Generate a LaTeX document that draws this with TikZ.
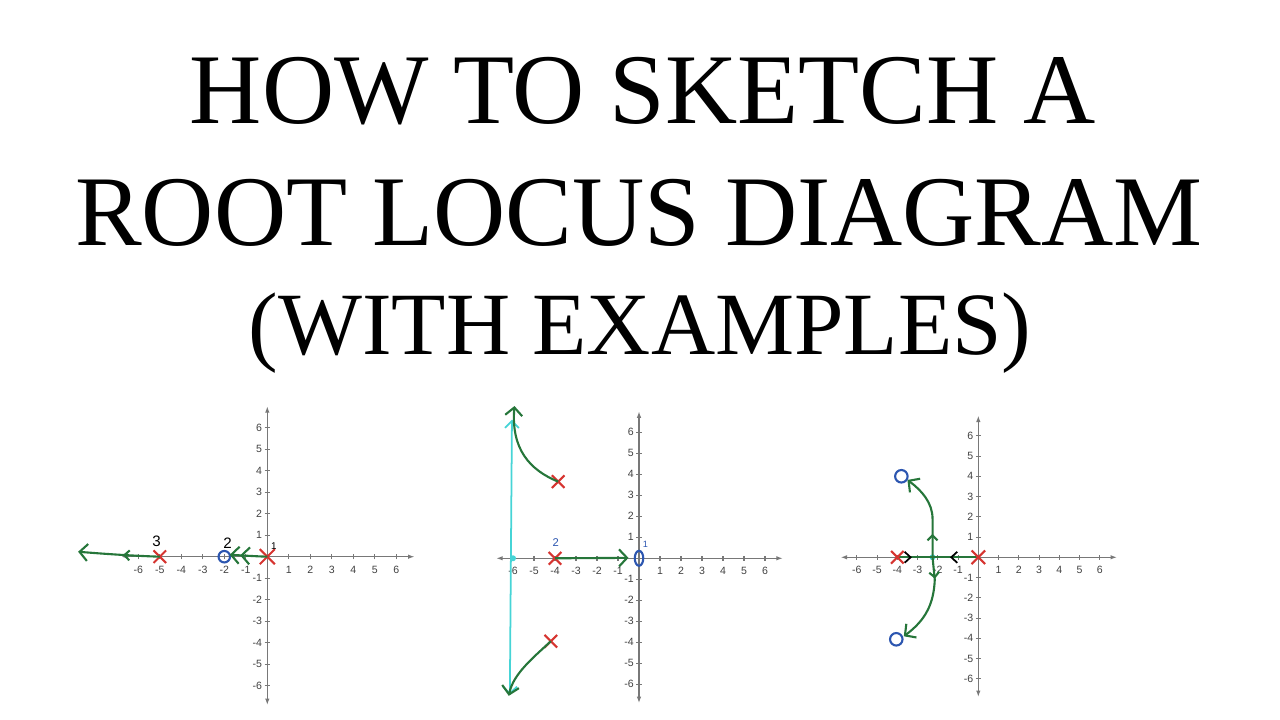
\documentclass[tikz,border=0pt]{standalone}
\usepackage{fontspec}
\setmainfont{Liberation Serif}
\newfontfamily\tickfont{Liberation Sans}
\usepackage{tikz}
\usetikzlibrary{arrows.meta}
\usetikzlibrary{shapes.misc,shapes.geometric,decorations.markings}
\definecolor{locus}{RGB}{38,118,58}
\definecolor{polered}{RGB}{214,52,48}
\definecolor{zeroblue}{RGB}{44,86,176}
\definecolor{breakcyan}{RGB}{70,212,214}
\definecolor{axisgray}{RGB}{120,120,120}
% axes of one s-plane, drawn in the current scope
\newcommand{\rlaxes}{%
  \coordinate (xw) at (-6.8,0);  \coordinate (xe) at (6.85,0);
  \coordinate (ys) at (0,-6.9);  \coordinate (yn) at (0,7.0);
  \draw[RLAxis] (xw) -- (xe);
  \draw[RLAxis] (ys) -- (yn);
  \foreach \t in {-6,-5,-4,-3,-2,-1,1,2,3,4,5,6}{
    \draw[RLTick] (\t,-0.12) -- (\t,0.12);
    \draw[RLTick] (-0.12,\t) -- (0.12,\t);
    \node[TickLabel,anchor=north] (xl\t) at (\t,-0.4) {\t};
    \node[TickLabel,anchor=east] (yl\t) at (-0.22,\t) {\t};
  }%
}

\begin{document}
\begin{tikzpicture}[
RLAxis/.style={draw=axisgray,line width=0.35pt,{Latex[length=0.65mm,width=0.45mm]}-{Latex[length=0.65mm,width=0.45mm]}},
RLTick/.style={draw=axisgray,line width=0.3pt},
TickLabel/.style={font=\tickfont\fontsize{3.0}{3.5}\selectfont,text=black!75,inner sep=0pt},
TitleText/.style={font=\fontsize{28.45}{30}\selectfont,anchor=base,inner sep=0pt},
HandLabel/.style={font=\tickfont\fontsize{4.3}{5}\selectfont,inner sep=0pt},
Pole/.style={cross out,draw=polered,line width=0.6pt,minimum size=1.05mm,inner sep=0pt},
Zero/.style={circle,draw=zeroblue,line width=0.6pt,minimum size=1.15mm,inner sep=0pt},
BreakDot/.style={circle,fill=breakcyan,minimum size=0.6mm,inner sep=0pt},
Locus/.style={draw=locus,line width=0.6pt},
LocusTip/.tip={Straight Barb[length=0.8mm,width=1.7mm]},
SmallTip/.tip={Straight Barb[length=0.5mm,width=1.0mm]},
MidArrow/.style={postaction={decorate},decoration={markings,mark=at position #1 with {\arrow{SmallTip[]}}}}
]
\useasboundingbox (0,0) rectangle (12.8,7.2);

% title
\node[TitleText] (line1) at (6.43,5.96) {HOW TO SKETCH A};
\node[TitleText] (line2) at (6.39,4.74) {ROOT LOCUS DIAGRAM};
\node[TitleText,font=\fontsize{25.3}{27}\selectfont] (line3) at (6.40,3.65) {(WITH EXAMPLES)};

% first example
\begin{scope}[shift={(2.673,1.633)},x=0.215cm,y=0.215cm,name prefix=p1-]
\rlaxes
\node[Pole,minimum size=1.3mm] (pa) at (0,0) {};
\node[Pole] (pb) at (-5,0) {};
\node[Zero] (za) at (-2,0) {};
\coordinate (ea) at (-1.75,0.09);
\coordinate (eb) at (-8.8,0.23);
\draw[Locus,-{LocusTip[] LocusTip[]}] (pa.center) .. controls (-0.6,0.02) and (-1.2,0.06) .. (ea);
\draw[Locus,-{LocusTip[]},MidArrow=0.45] (pb.center) .. controls (-6.5,0.05) and (-7.8,0.15) .. (eb);
\node[HandLabel] (n3) at (-5.15,0.72) {3};
\node[HandLabel] (n2) at (-1.85,0.62) {2};
\node[HandLabel,font=\tickfont\fontsize{2.8}{3}\selectfont] (n1) at (0.3,0.5) {1};
\end{scope}

% second example
\begin{scope}[shift={(6.39,1.617)},x=0.21cm,y=0.21cm,name prefix=p2-]
\rlaxes
\coordinate (cn) at (-6.05,6.6);
\coordinate (cs) at (-6.15,-6.5);
\draw[draw=breakcyan,line width=0.5pt,{Straight Barb[length=0.7mm,width=1.4mm]}-{Straight Barb[length=0.7mm,width=1.4mm]}] (cs) -- (cn);
\node[BreakDot] (d) at (-6,0) {};
\node[Pole] (pa) at (-4,0) {};
\node[Pole] (pb) at (-3.85,3.65) {};
\node[Pole] (pc) at (-4.2,-3.95) {};
\node[ellipse,draw=zeroblue,line width=0.6pt,minimum width=0.85mm,minimum height=1.5mm,inner sep=0pt] (za) at (0,0) {};
\coordinate (ea) at (-0.5,0.02);
\coordinate (eb) at (-5.93,7.25);
\coordinate (ec) at (-6.2,-6.55);
\draw[Locus,-{LocusTip[]}] (pa.center) -- (ea);
\draw[Locus,-{LocusTip[]}] (pb.center) .. controls (-5.2,4.2) and (-6.1,5.2) .. (eb);
\draw[Locus,-{LocusTip[]}] (pc.center) .. controls (-5.0,-4.7) and (-6.0,-5.5) .. (ec);
\node[HandLabel,text=zeroblue,font=\tickfont\fontsize{3.2}{4}\selectfont] (n2) at (-3.96,0.74) {2};
\node[HandLabel,text=zeroblue,font=\tickfont\fontsize{2.6}{3}\selectfont] (n1) at (0.3,0.65) {1};
\end{scope}

% third example
\begin{scope}[shift={(9.783,1.627)},x=0.2025cm,y=0.2025cm,name prefix=p3-]
\rlaxes
\node[BreakDot] (b) at (-2.26,0) {};
\coordinate (en) at (-3.5,3.82);
\coordinate (es) at (-3.68,-3.9);
\coordinate (kn) at (-2.26,1.9);
\coordinate (ks) at (-2.15,-1.1);
\draw[Locus,postaction={decorate},decoration={markings,
  mark=at position 0.35 with {\arrow[black,line width=0.5pt]{Straight Barb[length=0.6mm,width=1.1mm]}},
  mark=at position 0.82 with {\arrowreversed[black,line width=0.5pt]{Straight Barb[length=0.6mm,width=1.1mm]}}}]
  (0,0) -- (-4,0);
\draw[Locus,-{LocusTip[]},MidArrow=0.27] (b.center) -- (kn) .. controls (-2.26,2.7) and (-2.8,3.3) .. (en);
\draw[Locus,-{LocusTip[]},MidArrow=0.24] (b.center) -- (ks) .. controls (-2.2,-2.3) and (-2.6,-3.1) .. (es);
\node[Pole,minimum size=1.15mm] (pa) at (0,0) {};
\node[Pole] (pb) at (-4,0) {};
\node[Zero,minimum size=1.25mm] (za) at (-3.8,4.0) {};
\node[Zero,minimum size=1.25mm] (zb) at (-4.05,-4.05) {};
\end{scope}
\end{tikzpicture}
\end{document}
